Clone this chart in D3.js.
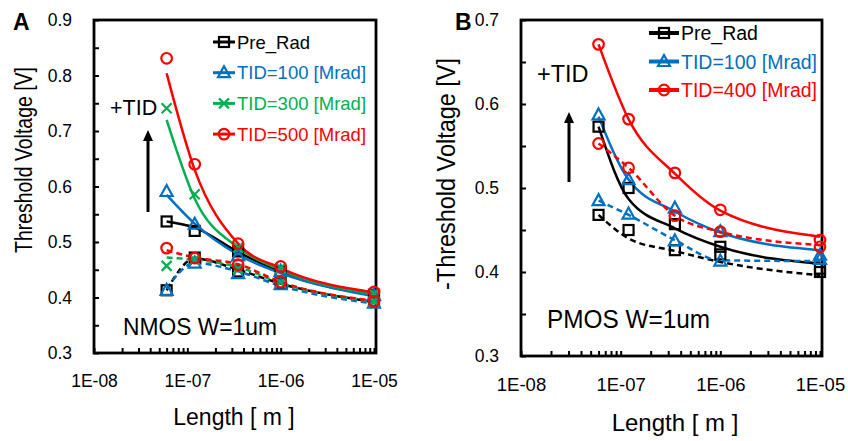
<!DOCTYPE html>
<html>
<head>
<meta charset="utf-8">
<script src="https://cdn.jsdelivr.net/npm/d3@7"></script>
<style>
  body { margin: 0; background: #fff; }
  svg { display: block; font-family: "Liberation Sans", Arial, sans-serif; }
</style>
</head>
<body>
<svg id="chart" width="848" height="441"></svg>
<script>
// Channel lengths [m]
const lengths = [6e-8, 1.2e-7, 3.5e-7, 1e-6, 1e-5];

// NMOS (panel A): measured markers and fitted curves, solid and dashed sets
const nmosPre = [0.537, 0.520, 0.483, 0.447, 0.405];
const nmosPreFit = [0.537, 0.526, 0.482, 0.446, 0.404];
const nmosPreD = [0.413, 0.472, 0.447, 0.426, 0.393];
const nmosPreDFit = [0.413, 0.470, 0.450, 0.425, 0.392];
const nmos100 = [0.591, 0.532, 0.475, 0.447, 0.404];
const nmos100Fit = [0.585, 0.533, 0.477, 0.444, 0.402];
const nmos100D = [0.413, 0.462, 0.443, 0.423, 0.390];
const nmos100DFit = [0.416, 0.462, 0.447, 0.421, 0.389];
const nmos300 = [0.741, 0.586, 0.490, 0.453, 0.407];
const nmos300Fit = [0.720, 0.578, 0.490, 0.450, 0.406];
const nmos300D = [0.457, 0.468, 0.452, 0.427, 0.393];
const nmos300DFit = [0.472, 0.468, 0.455, 0.426, 0.393];
const nmos500 = [0.831, 0.640, 0.497, 0.456, 0.410];
const nmos500Fit = [0.804, 0.630, 0.497, 0.453, 0.409];
const nmos500D = [0.489, 0.471, 0.459, 0.428, 0.393];
const nmos500DFit = [0.485, 0.472, 0.460, 0.428, 0.394];

// PMOS (panel B)
const pmosPre = [0.573, 0.500, 0.457, 0.430, 0.404];
const pmosPreFit = [0.573, 0.487, 0.452, 0.430, 0.410];
const pmosPreD = [0.468, 0.450, 0.426, 0.421, 0.400];
const pmosPreDFit = [0.468, 0.440, 0.425, 0.412, 0.396];
const pmos100 = [0.587, 0.510, 0.476, 0.448, 0.420];
const pmos100Fit = [0.585, 0.510, 0.472, 0.447, 0.426];
const pmos100D = [0.485, 0.469, 0.437, 0.413, 0.415];
const pmos100DFit = [0.485, 0.468, 0.438, 0.414, 0.413];
const pmos400 = [0.671, 0.582, 0.518, 0.474, 0.438];
const pmos400Fit = [0.671, 0.582, 0.517, 0.473, 0.442];
const pmos400D = [0.553, 0.524, 0.467, 0.448, 0.430];
const pmos400DFit = [0.553, 0.524, 0.467, 0.448, 0.432];

// Axis ticks
const xDecades = [1e-8, 1e-7, 1e-6, 1e-5];
const xDecadeLabels = ['1E-08', '1E-07', '1E-06', '1E-05'];
const yTicksA = [0.3, 0.35, 0.4, 0.45, 0.5, 0.55, 0.6, 0.65, 0.7, 0.75, 0.8, 0.85, 0.9];
const yLabelsA = [0.3, 0.4, 0.5, 0.6, 0.7, 0.8, 0.9];
const yTicksB = [0.3, 0.35, 0.4, 0.45, 0.5, 0.55, 0.6, 0.65, 0.7];
const yLabelsB = [0.3, 0.4, 0.5, 0.6, 0.7];

const BLACK = '#000000';
const BLUE = '#0070C0';
const GREEN = '#00B050';
const RED = '#FF0000';

const svg = d3.select('#chart');
svg.append('rect').attr('width', 848).attr('height', 441).attr('fill', '#fff');

function marker(g, shape, color, cx, cy) {
  if (shape === 'square') {
    g.append('rect').attr('x', cx - 5).attr('y', cy - 5).attr('width', 10).attr('height', 10)
    .attr('fill', 'none').attr('stroke', color).attr('stroke-width', 2.2);
  } else if (shape === 'triangle') {
    g.append('path').attr('d', `M${cx},${cy - 6.5}L${cx + 6},${cy + 4.5}L${cx - 6},${cy + 4.5}Z`)
    .attr('fill', 'none').attr('stroke', color).attr('stroke-width', 2.2);
  } else if (shape === 'circle') {
    g.append('circle').attr('cx', cx).attr('cy', cy).attr('r', 5.3)
    .attr('fill', 'none').attr('stroke', color).attr('stroke-width', 2.2);
  } else if (shape === 'cross') {
    g.append('path').attr('d', `M${cx - 5},${cy - 5}L${cx + 5},${cy + 5}M${cx + 5},${cy - 5}L${cx - 5},${cy + 5}`)
    .attr('stroke', color).attr('stroke-width', 2.2);
  }
}

function drawPanel(p) {
  const x = d3.scaleLog().domain([1e-8, 1e-5]).range(p.xRange);
  const y = d3.scaleLinear().domain(p.yDomain).range(p.yRange);
  const g = svg.append('g');

  // y ticks (inward) and labels
  g.append('g')
  .attr('transform', `translate(${p.xRange[0]},0)`)
  .call(d3.axisLeft(y).tickValues(p.yTicks).tickSize(-5).tickFormat(''))
  .call(s => s.select('.domain').remove())
  .call(s => s.selectAll('line').attr('stroke-width', 2));
  g.append('g')
  .attr('transform', `translate(${p.xRange[0]},0)`)
  .call(d3.axisLeft(y).tickValues(p.yLabels).tickSize(0).tickPadding(22).tickFormat(d3.format('.1f')))
  .call(s => s.select('.domain').remove())
  .call(s => s.selectAll('text').attr('font-size', p.yFont).attr('font-family', null).attr('fill', '#000'));

  // x ticks (inward): minor from log scale, labelled decades
  g.append('g')
  .attr('transform', `translate(0,${p.yRange[0]})`)
  .call(d3.axisBottom(x).tickValues(x.ticks()).tickSize(-5).tickFormat(''))
  .call(s => s.select('.domain').remove())
  .call(s => s.selectAll('line').attr('stroke-width', 2));
  g.append('g')
  .attr('transform', `translate(0,${p.yRange[0]})`)
  .call(d3.axisBottom(x).tickValues(xDecades).tickSize(0).tickPadding(p.xPad)
    .tickFormat((d, i) => xDecadeLabels[i]))
  .call(s => s.select('.domain').remove())
  .call(s => s.selectAll('text').attr('font-size', p.xFont).attr('font-family', null).attr('fill', '#000'));

  // frame
  g.append('rect')
  .attr('x', p.xRange[0]).attr('y', p.yRange[1])
  .attr('width', p.xRange[1] - p.xRange[0] + 2).attr('height', p.yRange[0] - p.yRange[1])
  .attr('fill', 'none').attr('stroke', '#000').attr('stroke-width', 2.8);

  const line = d3.line()
  .x((d, i) => x(lengths[i]))
  .y(d => y(d))
  .curve(d3.curveMonotoneX);

  p.series.forEach(s => {
    g.append('path').attr('d', line(s.dashedFit)).attr('fill', 'none')
    .attr('stroke', s.color).attr('stroke-width', 2.5).attr('stroke-dasharray', '6,4');
    g.append('path').attr('d', line(s.solidFit)).attr('fill', 'none')
    .attr('stroke', s.color).attr('stroke-width', 2.5);
  });
  p.series.forEach(s => {
    s.dashed.forEach((v, i) => marker(g, s.shape, s.color, x(lengths[i]), y(v)));
    s.solid.forEach((v, i) => marker(g, s.shape, s.color, x(lengths[i]), y(v)));
  });

  // legend
  p.series.forEach((s, i) => {
    const ly = p.legend.y + i * p.legend.dy;
    g.append('line')
    .attr('x1', p.legend.x).attr('x2', p.legend.x + p.legend.w)
    .attr('y1', ly).attr('y2', ly)
    .attr('stroke', s.color).attr('stroke-width', p.legend.sw);
    marker(g, s.shape, s.color, p.legend.x + p.legend.w / 2, ly);
    g.append('text')
    .attr('x', p.legend.x + p.legend.w + 2).attr('y', ly + p.legend.font * 0.36)
    .attr('font-size', p.legend.font).attr('fill', s.color)
    .text(s.name);
  });

  // +TID arrow
  g.append('text').attr('x', p.tid.x).attr('y', p.tid.y)
  .attr('font-size', p.tid.font).text('+TID');
  g.append('line')
  .attr('x1', p.arrow.x).attr('x2', p.arrow.x)
  .attr('y1', p.arrow.y1).attr('y2', p.arrow.y2 + 8)
  .attr('stroke', '#000').attr('stroke-width', 3);
  g.append('path')
  .attr('d', `M${p.arrow.x},${p.arrow.y2}L${p.arrow.x + 5},${p.arrow.y2 + 11}L${p.arrow.x - 5},${p.arrow.y2 + 11}Z`)
  .attr('fill', '#000');

  // device label
  g.append('text').attr('x', p.device.x).attr('y', p.device.y)
  .attr('font-size', p.device.font)
  .attr('textLength', p.device.len).attr('lengthAdjust', 'spacingAndGlyphs')
  .text(p.device.text);

  // panel letter
  g.append('text').attr('x', p.letter.x).attr('y', p.letter.y)
  .attr('font-size', 23).attr('font-weight', 'bold').text(p.letter.text);

  // axis titles
  g.append('text')
  .attr('x', p.xTitle.x).attr('y', p.xTitle.y)
  .attr('text-anchor', 'middle').attr('font-size', p.xTitle.font)
  .text('Length [ m ]');
  g.append('text')
  .attr('transform', `translate(${p.yTitle.x},${p.yTitle.cy}) rotate(-90)`)
  .attr('text-anchor', 'middle').attr('font-size', p.yTitle.font)
  .attr('textLength', p.yTitle.len).attr('lengthAdjust', 'spacingAndGlyphs')
  .text(p.yTitle.text);
}

drawPanel({
  xRange: [94, 374],
  yDomain: [0.3, 0.9],
  yRange: [353, 20],
  yTicks: yTicksA,
  yLabels: yLabelsA,
  yFont: 17.5,
  xFont: 17.5,
  xPad: 22,
  series: [
    { name: 'Pre_Rad', color: BLACK, shape: 'square', solid: nmosPre, solidFit: nmosPreFit, dashed: nmosPreD, dashedFit: nmosPreDFit },
    { name: 'TID=100 [Mrad]', color: BLUE, shape: 'triangle', solid: nmos100, solidFit: nmos100Fit, dashed: nmos100D, dashedFit: nmos100DFit },
    { name: 'TID=300 [Mrad]', color: GREEN, shape: 'cross', solid: nmos300, solidFit: nmos300Fit, dashed: nmos300D, dashedFit: nmos300DFit },
    { name: 'TID=500 [Mrad]', color: RED, shape: 'circle', solid: nmos500, solidFit: nmos500Fit, dashed: nmos500D, dashedFit: nmos500DFit }
  ],
  legend: { x: 213, w: 22, y: 42, dy: 30.7, font: 18.5, sw: 3 },
  tid: { x: 110, y: 115, font: 21.5 },
  arrow: { x: 148, y1: 212, y2: 130 },
  device: { x: 123, y: 335, font: 24, len: 154, text: 'NMOS W=1um' },
  letter: { x: 13, y: 30, text: 'A' },
  xTitle: { x: 234, y: 425, font: 23 },
  yTitle: { x: 32, cy: 160, font: 23, len: 186, text: 'Threshold Voltage [V]' }
});

drawPanel({
  xRange: [521, 820],
  yDomain: [0.3, 0.7],
  yRange: [356, 20],
  yTicks: yTicksB,
  yLabels: yLabelsB,
  yFont: 17.5,
  xFont: 18.5,
  xPad: 22,
  series: [
    { name: 'Pre_Rad', color: BLACK, shape: 'square', solid: pmosPre, solidFit: pmosPreFit, dashed: pmosPreD, dashedFit: pmosPreDFit },
    { name: 'TID=100 [Mrad]', color: BLUE, shape: 'triangle', solid: pmos100, solidFit: pmos100Fit, dashed: pmos100D, dashedFit: pmos100DFit },
    { name: 'TID=400 [Mrad]', color: RED, shape: 'circle', solid: pmos400, solidFit: pmos400Fit, dashed: pmos400D, dashedFit: pmos400DFit }
  ],
  legend: { x: 649, w: 30, y: 33, dy: 28.5, font: 19.5, sw: 4 },
  tid: { x: 537, y: 82, font: 23.5 },
  arrow: { x: 569, y1: 182, y2: 112 },
  device: { x: 547, y: 328, font: 26, len: 163, text: 'PMOS W=1um' },
  letter: { x: 455, y: 30, text: 'B' },
  xTitle: { x: 675, y: 431, font: 24 },
  yTitle: { x: 455, cy: 174, font: 25, len: 232, text: '-Threshold Voltage [V]' }
});
</script>
</body>
</html>
